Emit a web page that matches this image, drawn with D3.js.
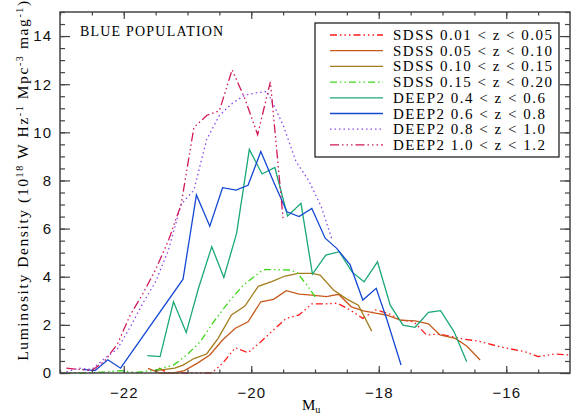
<!DOCTYPE html>
<html>
<head>
<meta charset="utf-8">
<script src="https://cdnjs.cloudflare.com/ajax/libs/d3/7.8.5/d3.min.js"></script>
<style>
  body { margin: 0; background: #fff; }
  svg { display: block; }
  .tick text { font-family: "Liberation Sans", sans-serif; font-size: 15px; fill: #111; }
</style>
</head>
<body>
<div class="grafico"></div>
<script>
// magnitude bins (M_u) and luminosity density
var sdss1 = [[-21.45, 0.2], [-21.3, 0.0], [-21.05, 0.0], [-20.8, 0.0], [-20.62, 0.0], [-20.45, 0.4], [-20.25, 1.05],
  [-20.05, 0.84], [-19.85, 1.3], [-19.65, 1.79], [-19.45, 2.27], [-19.25, 2.41], [-19.05, 2.87], [-18.85, 2.87],
  [-18.65, 2.9], [-18.45, 2.62], [-18.25, 2.27], [-18.05, 2.62], [-17.85, 2.48], [-17.65, 2.2], [-17.45, 2.13],
  [-17.25, 1.58], [-17.05, 1.62], [-16.85, 1.51], [-16.65, 1.4], [-16.45, 1.33], [-16.1, 1.09], [-15.7, 0.88],
  [-15.5, 0.68], [-15.25, 0.79], [-15.0, 0.75]];
var sdss2 = [[-21.62, 0.19], [-21.43, 0.0], [-21.22, 0.0], [-21.05, 0.1], [-20.85, 0.4], [-20.65, 0.75], [-20.45, 1.37],
  [-20.25, 1.86], [-20.05, 2.13], [-19.85, 2.96], [-19.65, 3.06], [-19.45, 3.42], [-19.25, 3.28], [-19.05, 3.24],
  [-18.82, 3.17], [-18.63, 3.27], [-18.43, 2.75], [-18.24, 2.58], [-18.03, 2.48], [-17.88, 2.41], [-17.66, 2.2],
  [-17.43, 2.17], [-17.22, 2.04], [-17.04, 1.58], [-16.8, 1.44], [-16.62, 1.12], [-16.41, 0.54]];
var sdss3 = [[-21.5, 0.1], [-21.2, 0.2], [-21.07, 0.33], [-20.9, 0.6], [-20.7, 0.79], [-20.52, 1.44], [-20.31, 2.41],
  [-20.1, 2.78], [-19.89, 3.6], [-19.68, 3.8], [-19.47, 4.03], [-19.26, 4.14], [-19.05, 4.14], [-18.92, 4.07],
  [-18.71, 3.45], [-18.5, 3.07], [-18.32, 2.82], [-18.11, 1.74]];
var sdss4 = [[-23.0, 0.0], [-22.55, 0.0], [-22.04, 0.1], [-21.8, 0.02], [-21.5, 0.12], [-21.22, 0.33], [-21.01, 0.75],
  [-20.8, 1.3], [-20.57, 2.2], [-20.33, 3.03], [-20.12, 3.66], [-19.86, 4.2], [-19.78, 4.3], [-19.39, 4.28],
  [-19.28, 4.17], [-19.13, 3.66], [-18.98, 3.1]];
var deep1 = [[-21.63, 0.72], [-21.43, 0.68], [-21.22, 2.96], [-21.02, 1.68], [-20.83, 3.5], [-20.62, 5.25],
  [-20.43, 3.97], [-20.23, 5.8], [-20.03, 9.29], [-19.83, 8.27], [-19.63, 8.54], [-19.43, 6.52], [-19.22, 7.05],
  [-19.04, 4.11], [-18.83, 4.9], [-18.62, 5.04], [-18.42, 4.2], [-18.23, 3.79], [-18.02, 4.62], [-17.82, 2.82],
  [-17.62, 1.99], [-17.43, 1.9], [-17.22, 2.52], [-17.03, 2.59], [-16.82, 1.72], [-16.62, 0.47]];
var deep2 = [[-22.65, 0.15], [-22.45, 0.1], [-22.25, 0.55], [-22.05, 0.2], [-21.07, 3.9], [-20.86, 7.4], [-20.65, 6.1],
  [-20.45, 7.7], [-20.24, 7.6], [-20.05, 7.8], [-19.85, 9.2], [-19.65, 7.95], [-19.44, 6.7], [-19.25, 6.5],
  [-19.05, 6.84], [-18.84, 5.6], [-18.66, 5.18], [-18.45, 4.5], [-18.25, 3.03], [-18.04, 3.52], [-17.87, 2.2],
  [-17.65, 0.33]];
var deep3 = [[-22.9, 0.05], [-22.7, 0.2], [-22.5, 0.15], [-22.3, 0.6], [-22.1, 1.0], [-21.9, 1.9], [-21.7, 2.9],
  [-21.5, 3.8], [-21.3, 5.1], [-21.1, 7.0], [-20.9, 7.6], [-20.7, 9.7], [-20.5, 10.7], [-20.3, 11.2], [-20.1, 11.55],
  [-19.9, 11.65], [-19.75, 11.7], [-19.5, 10.3], [-19.3, 8.8], [-19.1, 8.0], [-18.9, 6.9], [-18.74, 5.6]];
var deep4 = [[-22.9, 0.2], [-22.7, 0.15], [-22.5, 0.1], [-22.3, 0.5], [-22.1, 1.2], [-21.9, 2.4], [-21.7, 3.3],
  [-21.5, 4.3], [-21.3, 5.5], [-21.1, 7.0], [-20.9, 10.2], [-20.7, 10.7], [-20.5, 10.9], [-20.3, 12.6], [-20.1, 11.4],
  [-19.9, 9.9], [-19.7, 12.1], [-19.5, 6.4]];

var labels = ["SDSS 0.01 < z < 0.05", "SDSS 0.05 < z < 0.10", "SDSS 0.10 < z < 0.15", "SDSS 0.15 < z < 0.20",
  "DEEP2 0.4 < z < 0.6", "DEEP2 0.6 < z < 0.8", "DEEP2 0.8 < z < 1.0", "DEEP2 1.0 < z < 1.2"];
var xTicks = [-22, -20, -18, -16];
var yTicks = [0, 2, 4, 6, 8, 10, 12, 14];

var width = 571, height = 417;
var margin = { top: 12, right: 1, bottom: 44, left: 60 };

var series = [
  { data: sdss1, color: "#ff1a1a", dash: "7,3,1.5,3,1.5,3,1.5,3" },
  { data: sdss2, color: "#c65a1c", dash: null },
  { data: sdss3, color: "#a37c1c", dash: null },
  { data: sdss4, color: "#3fd61a", dash: "7,3,1.5,3,1.5,3" },
  { data: deep1, color: "#1aa877", dash: null },
  { data: deep2, color: "#1449d6", dash: null },
  { data: deep3, color: "#8a46ee", dash: "1.5,3" },
  { data: deep4, color: "#d0185c", dash: "9,3,1.5,3,1.5,3,1.5,3" }
];

var svg = d3.select(".grafico").append("svg")
  .attr("width", width)
  .attr("height", height);

var x = d3.scaleLinear().domain([-23, -15]).range([margin.left, width - margin.right]);
var y = d3.scaleLinear().domain([0, 15]).range([height - margin.bottom, margin.top]);

var line = d3.line()
  .x(function (d) { return x(d[0]); })
  .y(function (d) { return y(d[1]); });

// the curves
svg.append("g").selectAll("path")
  .data(series)
  .enter().append("path")
  .attr("d", function (d) { return line(d.data); })
  .attr("fill", "none")
  .attr("stroke", function (d) { return d.color; })
  .attr("stroke-width", 1.3)
  .attr("stroke-dasharray", function (d) { return d.dash; });

// axes, ticks inward on all four sides
var minorX = d3.range(-23, -15.01, 0.5), minorY = d3.range(0, 15.01, 0.5);
var axisColor = "#444";

function frameAxis(axis, tf, major, minor, majLen, minLen, showLabels) {
  var g = svg.append("g").attr("transform", tf);
  g.call(axis.tickValues(minor).tickSize(minLen).tickFormat(""));
  var g2 = svg.append("g").attr("transform", tf);
  g2.call(axis.tickValues(major).tickSize(majLen).tickFormat(showLabels ? d3.format("") : ""));
  [g, g2].forEach(function (s) {
    s.select(".domain").remove();
    s.selectAll("line").attr("stroke", axisColor).attr("stroke-width", 1.2);
  });
  return g2;
}

var bottom = height - margin.bottom, right = width - margin.right;
var gx = frameAxis(d3.axisBottom(x), "translate(0," + bottom + ")", xTicks, minorX, -7, -3.5, true);
gx.selectAll("text").attr("y", 14).attr("dy", "0.71em").attr("letter-spacing", 1);
frameAxis(d3.axisTop(x), "translate(0," + margin.top + ")", xTicks, minorX, -7, -3.5, false);
var gy = frameAxis(d3.axisLeft(y), "translate(" + margin.left + ",0)", yTicks, minorY, -10, -5, true);
gy.selectAll("text").attr("x", -8).attr("letter-spacing", 1);
frameAxis(d3.axisRight(y), "translate(" + right + ",0)", yTicks, minorY, -10, -5, false);

svg.append("rect")
  .attr("x", margin.left).attr("y", margin.top)
  .attr("width", right - margin.left).attr("height", bottom - margin.top)
  .attr("fill", "none").attr("stroke", axisColor).attr("stroke-width", 1.5);

// title inside the plot
svg.append("text")
  .attr("x", 80).attr("y", 36)
  .style("font-family", "Liberation Serif, serif")
  .style("font-size", "14px")
  .attr("letter-spacing", 1.2)
  .text("BLUE POPULATION");

// legend
var legend = svg.append("g");
legend.append("rect")
  .attr("x", 315).attr("y", 23).attr("width", 244).attr("height", 134)
  .attr("fill", "#fff").attr("stroke", "#111").attr("stroke-width", 1.2);

var rows = legend.selectAll(".row")
  .data(series)
  .enter().append("g")
  .attr("class", "row")
  .attr("transform", function (d, i) { return "translate(0," + (35 + i * 15.7) + ")"; });

rows.append("line")
  .attr("x1", 330).attr("x2", 383)
  .attr("stroke", function (d) { return d.color; })
  .attr("stroke-width", 1.3)
  .attr("stroke-dasharray", function (d) { return d.dash; });

rows.append("text")
  .attr("x", 393).attr("y", 5)
  .style("font-family", "Liberation Serif, serif")
  .style("font-size", "15px")
  .attr("textLength", function (d, i) { return i < 4 ? 159 : 152; })
  .attr("lengthAdjust", "spacing")
  .text(function (d, i) { return labels[i]; });

// axis titles
var yl = svg.append("text")
  .attr("transform", "translate(28,180) rotate(-90)")
  .attr("text-anchor", "middle")
  .style("font-family", "Liberation Serif, serif")
  .style("font-size", "15.5px")
  .attr("letter-spacing", 1.6);
yl.append("tspan").text("Luminosity Density (10");
yl.append("tspan").attr("dy", -5).style("font-size", "10px").text("18");
yl.append("tspan").attr("dy", 5).text(" W Hz");
yl.append("tspan").attr("dy", -5).style("font-size", "10px").text("-1");
yl.append("tspan").attr("dy", 5).text(" Mpc");
yl.append("tspan").attr("dy", -5).style("font-size", "10px").text("-3");
yl.append("tspan").attr("dy", 5).text(" mag");
yl.append("tspan").attr("dy", -5).style("font-size", "10px").text("-1");
yl.append("tspan").attr("dy", 5).text(")");

var xl = svg.append("text")
  .attr("x", 302).attr("y", 410)
  .style("font-family", "Liberation Serif, serif")
  .style("font-size", "15px");
xl.append("tspan").text("M");
xl.append("tspan").attr("dy", 3).style("font-size", "10px").text("u");
</script>
</body>
</html>
